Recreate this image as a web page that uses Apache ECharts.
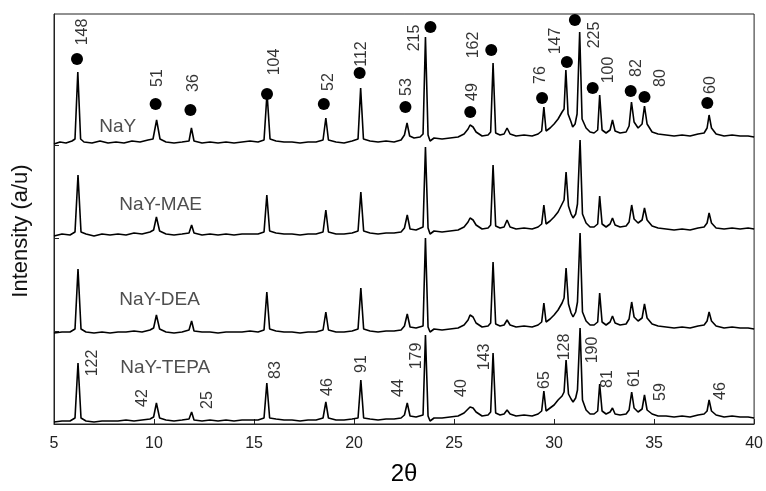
<!DOCTYPE html>
<html>
<head>
<meta charset="utf-8">
<script src="https://cdn.jsdelivr.net/npm/echarts@6/dist/echarts.min.js"></script>
<style>
  html, body { margin: 0; padding: 0; background: #fff; }
  #chart { width: 766px; height: 491px; }
</style>
</head>
<body>
<div id="chart"></div>
<script>
// x ticks (2θ)
const xTicks = [5, 10, 15, 20, 25, 30, 35, 40]

// traces: [2θ, intensity (offset, arbitrary units)]
const nay = [[5.0,280],[5.3,282],[5.6,281],[5.9,283],[6.05,285],[6.19,352],[6.33,285],[6.5,282],[6.9,281],[7.3,283],[7.7,281],[8.1,282],[8.5,281],[8.9,283],[9.3,282],[9.7,284],[9.95,285],[10.13,304],[10.3,285],[10.6,282],[11.0,281],[11.4,282],[11.75,283],[11.87,296],[12.0,283],[12.4,281],[12.8,282],[13.2,281],[13.6,282],[14.0,281],[14.4,282],[14.8,283],[15.2,282],[15.5,284],[15.65,331],[15.8,285],[16.1,283],[16.5,282],[16.9,282],[17.3,281],[17.7,282],[18.1,282],[18.45,284],[18.59,306],[18.72,284],[19.1,282],[19.5,281],[19.9,283],[20.2,285],[20.33,336],[20.47,285],[20.8,283],[21.2,282],[21.6,283],[22.0,282],[22.35,284],[22.52,289],[22.65,301],[22.78,288],[23.0,286],[23.3,287],[23.45,290],[23.57,387],[23.7,289],[23.8,283],[24.0,286],[24.4,285],[24.8,286],[25.2,287],[25.5,290],[25.7,295],[25.8,299],[25.95,297],[26.1,292],[26.4,288],[26.7,289],[26.83,292],[26.95,361],[27.08,291],[27.3,289],[27.5,290],[27.65,296],[27.8,290],[28.1,288],[28.5,289],[28.9,288],[29.2,290],[29.38,293],[29.49,317],[29.6,293],[29.8,296],[30.0,300],[30.2,305],[30.4,312],[30.5,315],[30.59,354],[30.7,310],[30.85,302],[30.93,297],[31.05,300],[31.15,310],[31.28,392],[31.4,305],[31.6,296],[31.8,292],[32.0,291],[32.18,294],[32.28,329],[32.4,294],[32.6,291],[32.8,294],[32.92,304],[33.05,293],[33.3,291],[33.6,292],[33.75,298],[33.87,322],[34.0,302],[34.2,296],[34.4,300],[34.52,318],[34.65,300],[34.9,292],[35.2,290],[35.6,289],[36.0,288],[36.4,289],[36.8,288],[37.2,290],[37.5,291],[37.65,296],[37.75,309],[37.87,296],[38.1,290],[38.5,288],[38.9,289],[39.3,288],[39.7,288],[40.0,287]]

const nayMae = [[5.0,188],[5.4,190],[5.8,189],[6.05,192],[6.2,249],[6.35,192],[6.6,190],[7.0,188],[7.4,190],[7.8,189],[8.2,190],[8.6,189],[9.0,191],[9.4,190],[9.8,192],[9.98,194],[10.12,207],[10.28,193],[10.6,190],[11.0,189],[11.4,190],[11.75,191],[11.88,199],[12.0,191],[12.4,189],[12.8,190],[13.2,189],[13.6,190],[14.0,189],[14.4,190],[14.8,190],[15.2,190],[15.5,192],[15.64,229],[15.78,193],[16.1,191],[16.5,190],[16.9,190],[17.3,189],[17.7,190],[18.1,190],[18.45,192],[18.59,214],[18.72,192],[19.1,190],[19.5,190],[19.9,191],[20.2,193],[20.34,232],[20.48,193],[20.8,191],[21.2,190],[21.6,191],[22.0,191],[22.35,192],[22.52,196],[22.66,209],[22.8,195],[23.1,194],[23.45,197],[23.57,277],[23.7,196],[23.8,190],[24.0,193],[24.4,192],[24.8,193],[25.2,194],[25.5,197],[25.7,202],[25.8,206],[25.95,204],[26.1,199],[26.4,195],[26.7,196],[26.83,199],[26.95,259],[27.08,198],[27.3,196],[27.5,197],[27.65,204],[27.8,197],[28.1,195],[28.5,196],[28.9,195],[29.2,197],[29.38,200],[29.49,219],[29.6,200],[29.8,203],[30.0,207],[30.2,212],[30.4,220],[30.5,224],[30.6,252],[30.72,218],[30.85,210],[30.95,206],[31.08,210],[31.17,220],[31.3,284],[31.42,210],[31.6,201],[31.8,197],[32.0,197],[32.18,200],[32.28,228],[32.4,200],[32.6,197],[32.8,200],[32.92,206],[33.05,199],[33.3,197],[33.6,198],[33.75,202],[33.88,219],[34.0,205],[34.2,201],[34.4,204],[34.52,216],[34.65,204],[34.9,198],[35.2,196],[35.6,195],[36.0,194],[36.4,195],[36.8,194],[37.2,196],[37.5,197],[37.65,201],[37.75,211],[37.87,201],[38.1,196],[38.5,195],[38.9,196],[39.3,195],[39.7,196],[40.0,195]]

const nayDea = [[5.0,91],[5.4,92],[5.8,92],[6.05,95],[6.2,155],[6.35,95],[6.6,92],[7.0,91],[7.4,92],[7.8,91],[8.2,92],[8.6,92],[9.0,93],[9.4,92],[9.8,94],[9.98,96],[10.12,109],[10.28,95],[10.6,92],[11.0,91],[11.4,92],[11.75,94],[11.88,103],[12.0,93],[12.4,92],[12.8,92],[13.2,91],[13.6,92],[14.0,92],[14.4,92],[14.8,93],[15.2,92],[15.5,94],[15.64,132],[15.78,95],[16.1,93],[16.5,92],[16.9,92],[17.3,91],[17.7,92],[18.1,92],[18.45,94],[18.59,112],[18.72,94],[19.1,92],[19.5,92],[19.9,93],[20.2,95],[20.34,136],[20.48,95],[20.8,93],[21.2,92],[21.6,93],[22.0,93],[22.35,94],[22.52,98],[22.66,110],[22.8,97],[23.1,96],[23.45,98],[23.57,186],[23.7,97],[23.8,92],[24.0,95],[24.4,94],[24.8,95],[25.2,96],[25.5,99],[25.7,104],[25.8,109],[25.95,107],[26.1,101],[26.4,97],[26.7,98],[26.83,101],[26.95,162],[27.08,100],[27.3,98],[27.5,99],[27.65,104],[27.8,99],[28.1,97],[28.5,98],[28.9,97],[29.2,99],[29.38,102],[29.49,121],[29.6,102],[29.8,105],[30.0,109],[30.2,114],[30.4,121],[30.5,126],[30.6,156],[30.72,120],[30.85,111],[30.95,107],[31.08,112],[31.17,122],[31.3,191],[31.42,112],[31.6,103],[31.8,99],[32.0,99],[32.18,102],[32.28,131],[32.4,102],[32.6,99],[32.8,102],[32.92,108],[33.05,101],[33.3,99],[33.6,100],[33.75,105],[33.88,122],[34.0,107],[34.2,103],[34.4,106],[34.52,120],[34.65,106],[34.9,100],[35.2,98],[35.6,97],[36.0,96],[36.4,97],[36.8,96],[37.2,98],[37.5,99],[37.65,103],[37.75,112],[37.87,103],[38.1,98],[38.5,96],[38.9,97],[39.3,96],[39.7,96],[40.0,95]]

const nayTepa = [[5.0,2],[5.4,3],[5.8,3],[6.05,6],[6.2,61],[6.35,6],[6.6,3],[7.0,2],[7.4,3],[7.8,3],[8.2,3],[8.6,4],[9.0,3],[9.4,4],[9.8,5],[9.98,7],[10.12,21],[10.28,6],[10.6,4],[11.0,3],[11.4,4],[11.75,5],[11.88,12],[12.0,4],[12.4,3],[12.8,4],[13.2,3],[13.6,4],[14.0,3],[14.4,4],[14.8,4],[15.2,4],[15.5,6],[15.64,41],[15.78,6],[16.1,5],[16.5,4],[16.9,4],[17.3,3],[17.7,4],[18.1,4],[18.45,6],[18.59,22],[18.72,6],[19.1,4],[19.5,4],[19.9,5],[20.2,6],[20.34,44],[20.48,6],[20.8,5],[21.2,4],[21.6,5],[22.0,5],[22.35,6],[22.52,9],[22.66,21],[22.8,8],[23.1,7],[23.45,9],[23.57,89],[23.7,8],[23.8,3],[24.0,6],[24.4,6],[24.8,7],[25.2,8],[25.5,11],[25.7,15],[25.8,17],[25.95,16],[26.1,12],[26.4,8],[26.7,9],[26.83,12],[26.95,71],[27.08,11],[27.3,9],[27.5,10],[27.65,14],[27.8,10],[28.1,8],[28.5,9],[28.9,8],[29.2,10],[29.38,13],[29.49,33],[29.6,13],[29.8,16],[30.0,19],[30.2,24],[30.4,28],[30.5,32],[30.6,64],[30.72,30],[30.85,25],[30.95,22],[31.08,26],[31.17,34],[31.3,96],[31.42,24],[31.6,14],[31.8,10],[32.0,10],[32.18,13],[32.28,40],[32.4,13],[32.6,10],[32.8,12],[32.92,16],[33.05,10],[33.3,9],[33.6,10],[33.75,14],[33.88,32],[34.0,16],[34.2,12],[34.4,15],[34.52,29],[34.65,14],[34.9,10],[35.2,8],[35.6,8],[36.0,7],[36.4,8],[36.8,7],[37.2,9],[37.5,10],[37.65,13],[37.75,24],[37.87,13],[38.1,9],[38.5,7],[38.9,8],[39.3,7],[39.7,7],[40.0,6]]

// black dots over the NaY peaks
const nayDots = [[6.15,365],[10.08,320],[11.82,314],[15.65,330],[18.49,320],[20.28,351],[22.57,317],[23.82,397],[25.81,312],[26.86,374],[29.40,326],[30.64,362],[31.04,404],[31.93,336],[33.83,333],[34.52,327],[37.66,321]]

// peak numbers: [x, y, text]
const nayPeakLabels = [[6.44,392,'148'],[10.18,346,'51'],[11.97,341,'36'],[16.05,362,'104'],[18.74,342,'52'],[20.38,370,'112'],[22.62,337,'53'],[23.02,386,'215'],[25.91,332,'49'],[25.96,379,'162'],[29.35,349,'76'],[30.09,383,'147'],[32.03,389,'225'],[32.73,354,'100'],[34.12,356,'82'],[35.32,346,'80'],[37.81,339,'60']]
const tepaPeakLabels = [[6.94,61,'122'],[9.43,26,'42'],[12.67,24,'25'],[16.10,54,'83'],[18.69,37,'46'],[20.38,60,'91'],[22.23,36,'44'],[23.12,68,'179'],[25.36,36,'40'],[26.51,67,'143'],[29.54,44,'65'],[30.54,77,'128'],[31.93,74,'190'],[32.68,45,'81'],[34.03,46,'61'],[35.32,32,'59'],[38.31,33,'46']]

// sample names: [x, y, text]
const sampleNames = [[7.24,297,'NaY'],[8.24,219,'NaY-MAE'],[8.24,124,'NaY-DEA'],[8.29,56,'NaY-TEPA']]

const FONT = '"Liberation Sans", Arial, sans-serif'

const chart = echarts.init(document.getElementById('chart'))

const traceSeries = [nay, nayMae, nayDea, nayTepa].map(d => ({
  type: 'line',
  data: d,
  showSymbol: false,
  symbol: 'none',
  lineStyle: { color: '#000', width: 1.6 },
  animation: false,
  z: 2
}))

const labelSeries = (data, style) => ({
  type: 'scatter',
  data: data,
  symbolSize: 1,
  itemStyle: { color: 'rgba(0,0,0,0)' },
  animation: false,
  silent: true,
  z: 4,
  label: Object.assign({
    show: true,
    formatter: p => p.value[2],
    fontFamily: FONT,
    color: '#000'
  }, style)
})

chart.setOption({
  backgroundColor: '#fff',
  animation: false,
  grid: {
    left: 54, right: 9, top: 14, bottom: 67,
    show: true, borderColor: '#222', borderWidth: 1
  },
  xAxis: {
    type: 'value',
    min: 5, max: 40, interval: 5,
    name: '2θ',
    nameLocation: 'middle',
    nameGap: 38,
    nameTextStyle: { fontFamily: FONT, fontSize: 24, color: '#000' },
    axisLine: { lineStyle: { color: '#222' } },
    axisTick: { inside: true, length: 5, lineStyle: { color: '#222' } },
    axisLabel: { fontFamily: FONT, fontSize: 16, color: '#222', margin: 12,
      formatter: v => xTicks.includes(v) ? String(v) : '' },
    splitLine: { show: false }
  },
  yAxis: {
    type: 'value',
    min: 0, max: 410, interval: 93,
    axisLine: { show: true, lineStyle: { color: '#222' } },
    axisTick: { show: true, inside: true, length: 5, lineStyle: { color: '#222' },
      customValues: [93, 186, 279] },
    axisLabel: { show: false },
    splitLine: { show: false }
  },
  graphic: [{
    type: 'text',
    x: 21, y: 231,
    rotation: Math.PI / 2,
    style: {
      text: 'Intensity (a/u)',
      fontFamily: FONT, fontSize: 22, fill: '#111',
      textAlign: 'center', textVerticalAlign: 'middle'
    }
  }],
  series: [
    ...traceSeries,
    {
      type: 'scatter',
      data: nayDots,
      symbolSize: 12,
      itemStyle: { color: '#000', opacity: 1 },
      animation: false,
      z: 5
    },
    labelSeries(nayPeakLabels, { position: 'inside', rotate: 90, fontSize: 16 }),
    labelSeries(tepaPeakLabels, { position: 'inside', rotate: 90, fontSize: 16 }),
    labelSeries(sampleNames, { position: 'right', distance: 0, fontSize: 19, color: '#222' })
  ]
})
</script>
</body>
</html>
